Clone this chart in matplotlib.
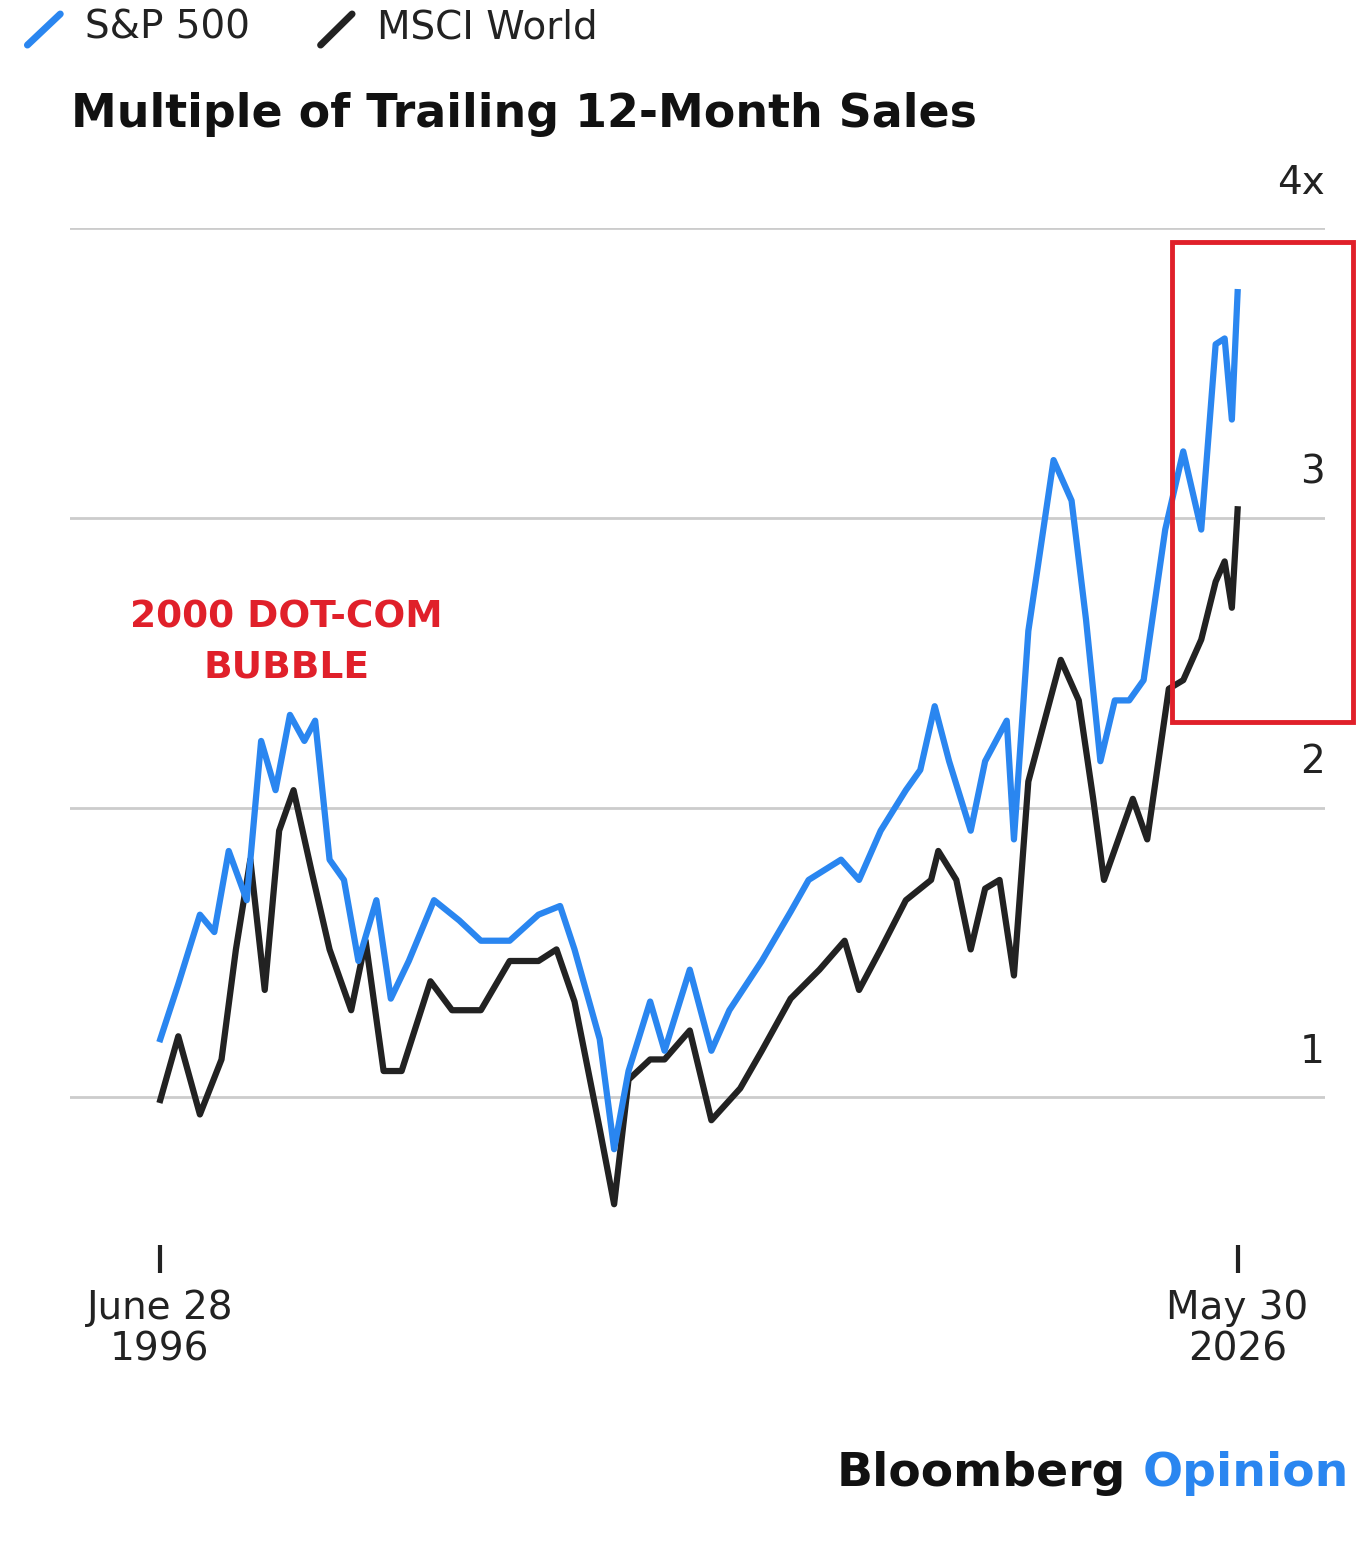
import numpy as np
import matplotlib.pyplot as plt
from matplotlib.patches import Rectangle
from matplotlib.lines import Line2D

#DATA (decimal year, multiple of sales)
sp_year = [1996.5, 1997.0, 1997.6, 1998.0, 1998.4, 1998.9, 1999.3, 1999.7, 2000.1, 2000.5,
           2000.8, 2001.2, 2001.6, 2002.0, 2002.5, 2002.9, 2003.4, 2004.1, 2004.8, 2005.4,
           2006.2, 2007.0, 2007.6, 2008.0, 2008.7, 2009.1, 2009.5, 2010.1, 2010.5, 2011.2,
           2011.8, 2012.3, 2013.2, 2014.0, 2014.5, 2015.4, 2015.9, 2016.5, 2017.2, 2017.6,
           2018.0, 2018.4, 2019.0, 2019.4, 2020.0, 2020.2, 2020.6, 2021.3, 2021.8, 2022.2,
           2022.6, 2023.0, 2023.4, 2023.8, 2024.4, 2024.9, 2025.4, 2025.8, 2026.05, 2026.25, 2026.41]
sp_val = [1.20, 1.39, 1.63, 1.57, 1.85, 1.68, 2.23, 2.06, 2.32, 2.23,
          2.30, 1.82, 1.75, 1.47, 1.68, 1.34, 1.47, 1.68, 1.61, 1.54,
          1.54, 1.63, 1.66, 1.51, 1.20, 0.82, 1.09, 1.33, 1.16, 1.44,
          1.16, 1.30, 1.47, 1.64, 1.75, 1.82, 1.75, 1.92, 2.06, 2.13,
          2.35, 2.16, 1.92, 2.16, 2.30, 1.89, 2.61, 3.20, 3.06, 2.65,
          2.16, 2.37, 2.37, 2.44, 2.96, 3.23, 2.96, 3.60, 3.62, 3.34, 3.78]

msci_year = [1996.5, 1997.0, 1997.6, 1998.2, 1998.6, 1999.0, 1999.4, 1999.8, 2000.2, 2000.7,
             2001.2, 2001.8, 2002.2, 2002.7, 2003.2, 2004.0, 2004.6, 2005.4, 2006.2, 2007.0,
             2007.5, 2008.0, 2008.7, 2009.1, 2009.5, 2010.1, 2010.5, 2011.2, 2011.8, 2012.6,
             2013.2, 2014.0, 2014.8, 2015.5, 2015.9, 2016.5, 2017.2, 2017.9, 2018.1, 2018.6,
             2019.0, 2019.4, 2019.8, 2020.2, 2020.6, 2021.5, 2022.0, 2022.4, 2022.7, 2023.1,
             2023.5, 2023.9, 2024.5, 2024.9, 2025.4, 2025.8, 2026.05, 2026.25, 2026.41]
msci_val = [0.99, 1.21, 0.94, 1.13, 1.51, 1.82, 1.37, 1.92, 2.06, 1.78,
            1.51, 1.30, 1.54, 1.09, 1.09, 1.40, 1.30, 1.30, 1.47, 1.47,
            1.51, 1.33, 0.89, 0.63, 1.06, 1.13, 1.13, 1.23, 0.92, 1.03,
            1.16, 1.34, 1.44, 1.54, 1.37, 1.51, 1.68, 1.75, 1.85, 1.75,
            1.51, 1.72, 1.75, 1.42, 2.09, 2.51, 2.37, 2.03, 1.75, 1.89,
            2.03, 1.89, 2.41, 2.44, 2.58, 2.78, 2.85, 2.69, 3.03]

y_ticks = [1, 2, 3, 4]
y_labels = ['1', '2', '3', '4x']
x_ticks = [1996.49, 2026.41]
x_labels = ['June 28\n1996', 'May 30\n2026']

blue = '#2a86f0'
black = '#222222'
red = '#e0202a'

fig = plt.figure(figsize=(13.7, 15.54), dpi=100)
ax = plt.axes([0.051, 0.199, 0.916, 0.654])

plt.plot(msci_year, msci_val, color=black, lw=4.5, solid_joinstyle='round')
plt.plot(sp_year, sp_val, color=blue, lw=4.5, solid_joinstyle='round')

ax.set_xlim(1993.99, 2028.83)
ax.set_ylim(0.49, 4.0)
for v, lab in zip(y_ticks, y_labels):
    ax.axhline(v, color='#cccccc', lw=2, zorder=0)
    ax.text(1.0, v + 0.09, lab, transform=ax.get_yaxis_transform(), ha='right', va='bottom',
            fontsize=28, color='#222222')
ax.set_yticks([])
ax.set_xticks(x_ticks)
ax.set_xticklabels(x_labels, fontsize=28, color='#222222', linespacing=1.1)
ax.tick_params(axis='x', length=20, width=3, color='#222222', pad=12)
for s in ax.spines.values():
    s.set_visible(False)

#주석 / annotation
ax.text(2000.0, 2.57, '2000 DOT-COM\nBUBBLE', ha='center', va='center', fontsize=27,
        fontweight='bold', color=red, linespacing=1.5)
fig.patches.append(Rectangle((1172/1370, 1 - 722/1554), 181/1370, 480/1554,
                             transform=fig.transFigure, fill=False, ec=red, lw=3.5))

#legend & title
fig.add_artist(Line2D([0.020, 0.044], [0.971, 0.991], color=blue, lw=5, solid_capstyle='round'))
fig.add_artist(Line2D([0.234, 0.257], [0.971, 0.991], color=black, lw=5, solid_capstyle='round'))
fig.text(0.062, 0.982, 'S&P 500', fontsize=28, color='#222222', va='center')
fig.text(0.275, 0.982, 'MSCI World', fontsize=28, color='#222222', va='center')
fig.text(0.052, 0.926, 'Multiple of Trailing 12-Month Sales', fontsize=33, fontweight='bold',
         color='#111111', va='center')

fig.text(0.822, 0.052, 'Bloomberg', fontsize=34, fontweight='bold', color='#111111',
         ha='right', va='center')
fig.text(0.985, 0.052, 'Opinion', fontsize=34, fontweight='bold', color=blue,
         ha='right', va='center')

plt.savefig('out.png', dpi=100)
